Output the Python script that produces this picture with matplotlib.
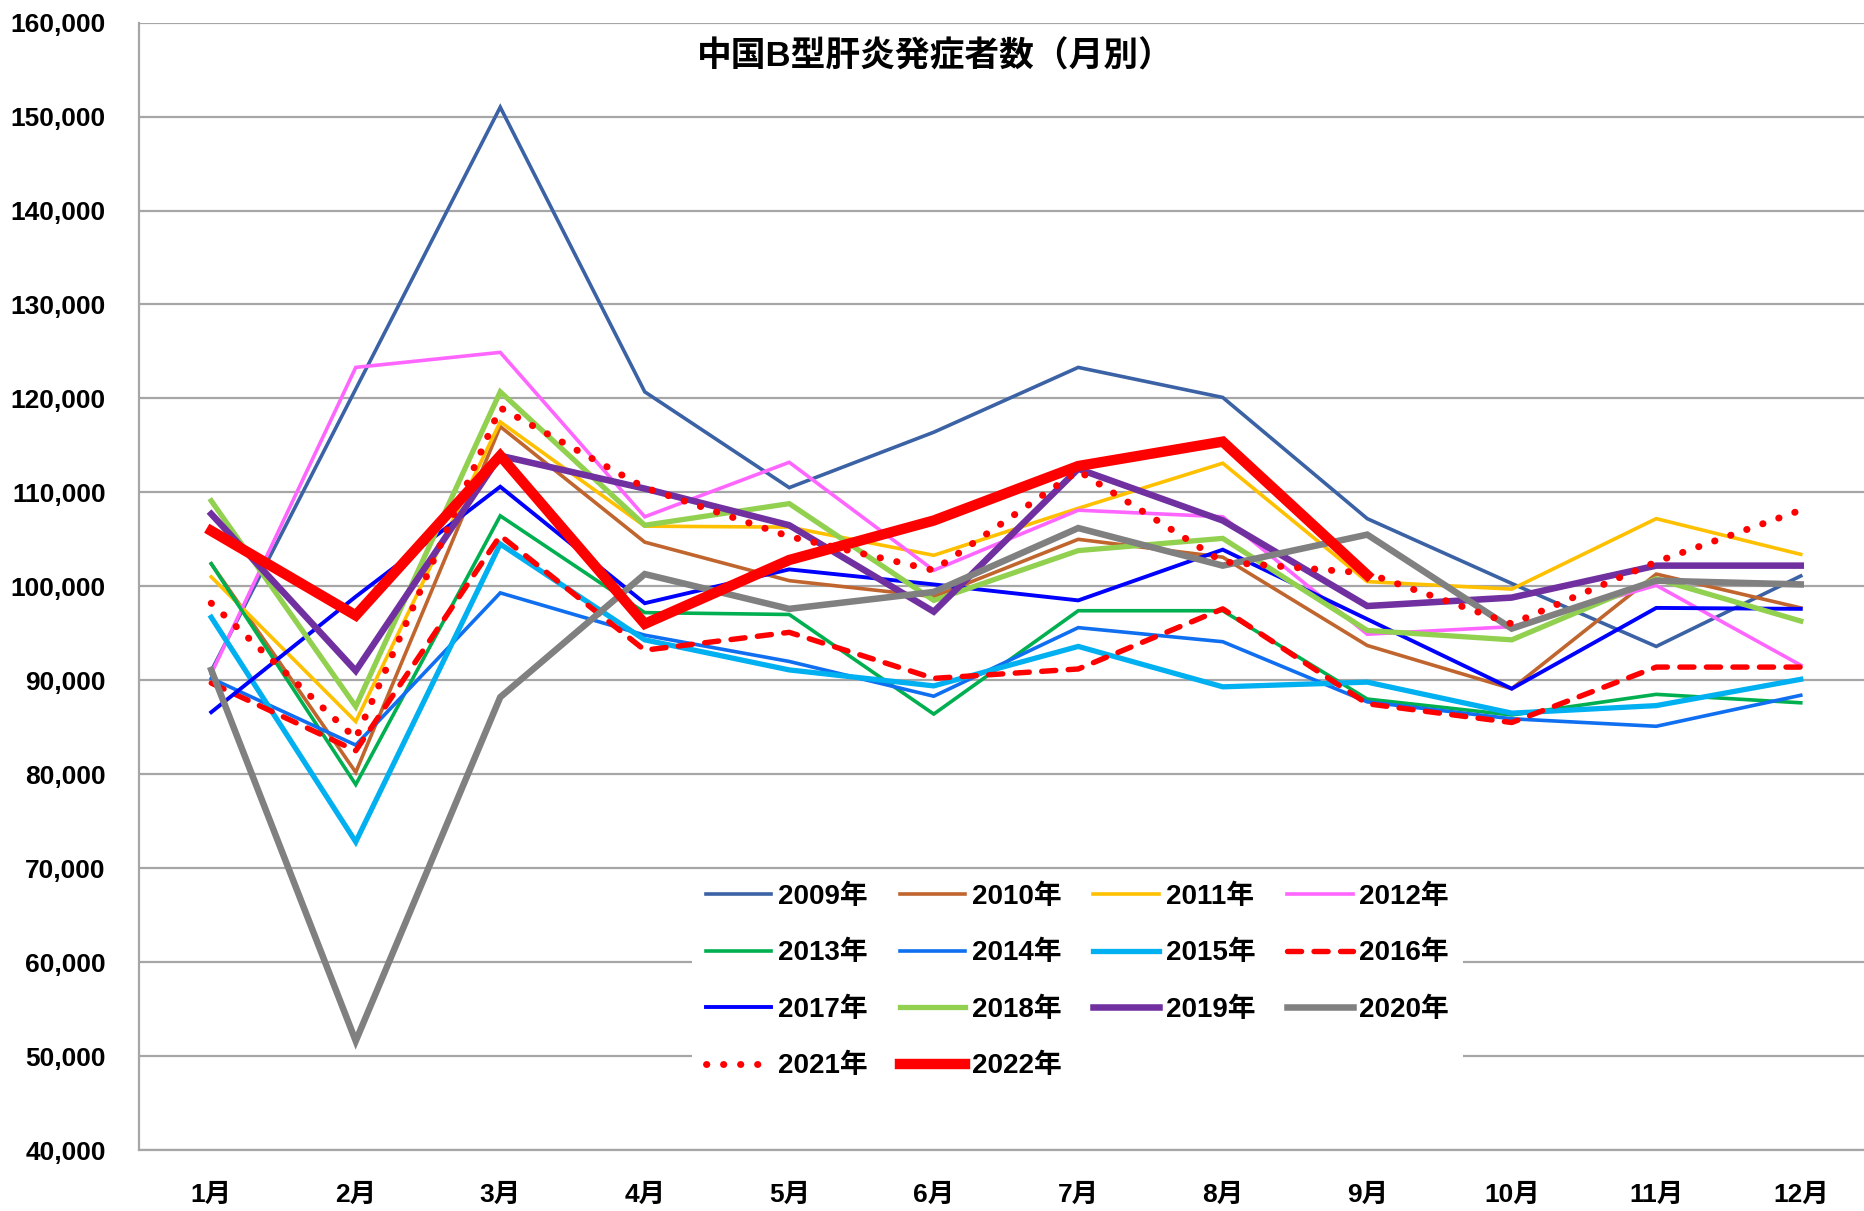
import numpy as np
import matplotlib
matplotlib.use("Agg")
import matplotlib.pyplot as plt
from matplotlib.ticker import FuncFormatter

plt.rcParams["font.family"] = ["Liberation Sans", "Noto Sans CJK JP"]
plt.rcParams["font.weight"] = "bold"

# monthly case counts
months = ["1月", "2月", "3月", "4月", "5月", "6月", "7月", "8月", "9月", "10月", "11月", "12月"]
y2009 = [91000, 121000, 151000, 120700, 110500, 116400, 123300, 120100, 107200, 100300, 93600, 101100]
y2010 = [102400, 80200, 117000, 104700, 100600, 98900, 105000, 103100, 93700, 89100, 101300, 97700]
y2011 = [101000, 85600, 117500, 106400, 106300, 103300, 108300, 113100, 100500, 99700, 107200, 103400]
y2012 = [90700, 123300, 124900, 107400, 113200, 101700, 108100, 107400, 94900, 95700, 100100, 91600]
y2013 = [102400, 78900, 107500, 97200, 97000, 86400, 97400, 97400, 88000, 86300, 88500, 87600]
y2014 = [90200, 83100, 99300, 94800, 92000, 88300, 95600, 94100, 87700, 85900, 85100, 88400]
y2015 = [96700, 72800, 104500, 94300, 91100, 89400, 93600, 89300, 89800, 86500, 87300, 90100]
y2016 = [89700, 82500, 105400, 93200, 95100, 90200, 91200, 97600, 87500, 85500, 91400, 91400]
y2017 = [86600, 98900, 110600, 98200, 101800, 100200, 98500, 103900, 96500, 89100, 97700, 97600]
y2018 = [109100, 87200, 120700, 106500, 108800, 98500, 103800, 105100, 95300, 94300, 100800, 96300]
y2019 = [107700, 91000, 113900, 110400, 106500, 97300, 112500, 107000, 97900, 98800, 102200, 102200]
y2020 = [91100, 51600, 88200, 101300, 97600, 99400, 106200, 102200, 105500, 95500, 100600, 100200]
y2021 = [98200, 83800, 119000, 110500, 105300, 101700, 112300, 102600, 101400, 96000, 102600, 108100]
y2022 = [105900, 96900, 113900, 96000, 102800, 107000, 112800, 115400, 101200, np.nan, np.nan, np.nan]

years = ["2009年", "2010年", "2011年", "2012年", "2013年", "2014年", "2015年",
         "2016年", "2017年", "2018年", "2019年", "2020年", "2021年", "2022年"]
series = [y2009, y2010, y2011, y2012, y2013, y2014, y2015,
          y2016, y2017, y2018, y2019, y2020, y2021, y2022]

dot = (0, (0.05, 2.4))
dash = (0, (2.6, 2.3))
styles = [
    dict(color="#3B62A5", lw=2.6),
    dict(color="#C0652E", lw=2.6),
    dict(color="#FFC000", lw=2.6),
    dict(color="#FF66FF", lw=2.6),
    dict(color="#00B050", lw=2.6),
    dict(color="#0F6FF0", lw=2.6),
    dict(color="#00B0F0", lw=3.8),
    dict(color="#FF0000", lw=3.9, ls=dash, dash_capstyle="round"),
    dict(color="#0000FF", lw=2.8),
    dict(color="#92D050", lw=3.8),
    dict(color="#7030A0", lw=4.7),
    dict(color="#808080", lw=4.7),
    dict(color="#FF0000", lw=5.0, ls=dot, dash_capstyle="round"),
    dict(color="#FF0000", lw=7.5),
]

fig = plt.figure(figsize=(18.64, 12.11), dpi=100)
ax = fig.add_axes([139 / 1864, 61 / 1211, 1734 / 1864, 1127.4 / 1211])

x = np.arange(len(months))
lines = []
for label, vals, st in zip(years, series, styles):
    ln, = ax.plot(x, vals, label=label, solid_joinstyle="miter", **st)
    lines.append(ln)

ax.set_xlim(-0.5, 11.5)
ax.set_ylim(40000, 160000)
ax.set_yticks(np.arange(40000, 160001, 10000))
ax.yaxis.set_major_formatter(FuncFormatter(lambda v, p: f"{int(v):,}"))
ax.set_xticks(x)
ax.set_xticklabels(months)
ax.tick_params(axis="both", length=0, labelsize=19)
ax.tick_params(axis="y", pad=24)
ax.tick_params(axis="x", pad=24)
ax.grid(axis="y", color="#A6A6A6", lw=1.6)
ax.set_axisbelow(True)
for side in ["top", "right"]:
    ax.spines[side].set_visible(False)
for side in ["left", "bottom"]:
    ax.spines[side].set_color("#A6A6A6")
    ax.spines[side].set_linewidth(1.6)

ax.text(935 / 1864, 1 - 57 / 1211, "中国B型肝炎発症者数（月別）", transform=fig.transFigure,
        ha="center", va="center", fontsize=25, fontweight="bold")

# legend filled column by column, so reorder to read row by row
order = [0, 4, 8, 12, 1, 5, 9, 13, 2, 6, 10, 3, 7, 11]
leg = ax.legend([lines[i] for i in order], [years[i] for i in order],
                ncol=4, loc="upper left",
                bbox_to_anchor=(678 / 1864, 1 - 856 / 1211), bbox_transform=fig.transFigure,
                frameon=True, fancybox=False, edgecolor="none", framealpha=1,
                fontsize=20, handlelength=2.35, handletextpad=0.25,
                columnspacing=1.15, labelspacing=1.1, borderpad=0.5)

fig.savefig("out.png", dpi=100)
